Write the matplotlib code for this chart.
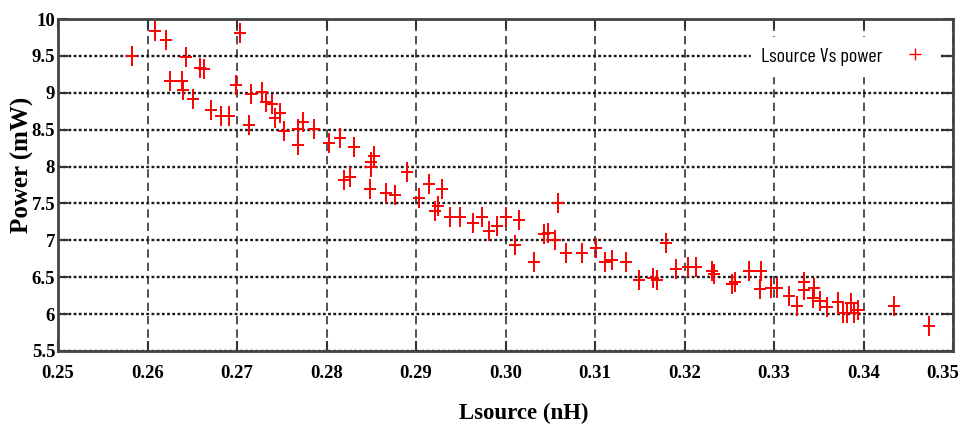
import matplotlib
matplotlib.use('Agg')
import matplotlib.pyplot as plt
import matplotlib.transforms as mtransforms
from matplotlib.ticker import FormatStrFormatter, FuncFormatter

# Lsource (nH) vs power (mW)
lsource = [0.2583, 0.2608, 0.2621, 0.2643, 0.2625, 0.2638, 0.2640, 0.2651, 0.2659, 0.2663,
           0.2671, 0.2682, 0.2691, 0.2699, 0.2703, 0.2713, 0.2716, 0.2728, 0.2732, 0.2739,
           0.2742, 0.2748, 0.2753, 0.2768, 0.2768, 0.2774, 0.2786, 0.2803, 0.2815, 0.2831,
           0.2850, 0.2853, 0.2850, 0.2819, 0.2826, 0.2890, 0.2849, 0.2866, 0.2877, 0.2903,
           0.2915, 0.2929, 0.2921, 0.2925, 0.2938, 0.2949, 0.2964, 0.2974, 0.2982, 0.2991,
           0.3001, 0.3015, 0.3011, 0.3032, 0.3043, 0.3047, 0.3059, 0.3055, 0.3068, 0.3086,
           0.3101, 0.3111, 0.3119, 0.3135, 0.3149, 0.3165, 0.3169, 0.3179, 0.3191, 0.3204,
           0.3213, 0.3231, 0.3233, 0.3253, 0.3256, 0.3272, 0.3284, 0.3286, 0.3297, 0.3303,
           0.3317, 0.3326, 0.3333, 0.3333, 0.3345, 0.3344, 0.3351, 0.3359, 0.3371, 0.3377,
           0.3382, 0.3386, 0.3389, 0.3394, 0.3434, 0.3473]
power = [9.50, 9.84, 9.71, 9.48, 9.16, 9.16, 9.04, 8.92, 9.34, 9.32,
         8.76, 8.69, 8.69, 9.10, 9.81, 8.56, 8.98, 9.01, 8.88, 8.85,
         8.66, 8.72, 8.48, 8.51, 8.29, 8.60, 8.51, 8.32, 8.39, 8.27,
         8.06, 8.14, 8.00, 7.82, 7.86, 7.92, 7.70, 7.64, 7.61, 7.58,
         7.76, 7.70, 7.40, 7.46, 7.31, 7.32, 7.23, 7.31, 7.13, 7.20,
         7.32, 7.27, 6.93, 6.71, 7.08, 7.10, 7.50, 7.01, 6.83, 6.83,
         6.89, 6.71, 6.73, 6.71, 6.46, 6.49, 6.46, 6.97, 6.61, 6.64,
         6.64, 6.58, 6.55, 6.41, 6.43, 6.58, 6.34, 6.58, 6.36, 6.36,
         6.25, 6.11, 6.43, 6.32, 6.36, 6.22, 6.18, 6.09, 6.17, 6.01,
         6.01, 6.15, 6.01, 6.06, 6.11, 5.84]

xticks = [0.25, 0.26, 0.27, 0.28, 0.29, 0.30, 0.31, 0.32, 0.33, 0.34, 0.35]
yticks = [5.5, 6, 6.5, 7, 7.5, 8, 8.5, 9, 9.5, 10]

serif = {'family': 'Liberation Serif', 'weight': 'bold'}

fig = plt.figure(figsize=(9.65, 4.4), dpi=100)
ax = fig.add_axes([0.0601, 0.2023, 0.9275, 0.7545])

# tall thin plus: vertical and horizontal arms drawn separately
ax.plot(lsource, power, ls='none', marker='|', ms=15, mew=1.4, color='red', zorder=3)
ax.plot(lsource, power, ls='none', marker='_', ms=8, mew=1.4, color='red', zorder=3)
# legend proxy
ax.plot([], [], ls='none', marker='+', ms=8, mew=1.0, color='red', label='Lsource Vs power')

ax.set_xlim(0.25, 0.35)
ax.set_ylim(5.5, 10)
ax.set_xticks(xticks)
ax.set_yticks(yticks)
ax.xaxis.set_major_formatter(FormatStrFormatter('%.2f'))
ax.yaxis.set_major_formatter(FuncFormatter(lambda v, p: '%g' % v))

ax.tick_params(direction='in', length=7, width=1.5, top=True, right=True, color='#333333')
ax.tick_params(axis='x', pad=10)
ax.tick_params(axis='y', pad=2)

for lab in ax.get_xticklabels() + ax.get_yticklabels():
    lab.set_fontfamily('Liberation Serif')
    lab.set_fontweight('bold')
    lab.set_fontsize(13.5)

# keep the last x label inside the figure
last = ax.get_xticklabels()[-1]
last.set_transform(last.get_transform() +
                   mtransforms.ScaledTranslation(-10 / 100, 0, fig.dpi_scale_trans))

ax.yaxis.grid(True, color='#1a1a1a', ls=(0, (1.2, 1.0)), lw=1.7)
ax.xaxis.grid(True, color='#333333', ls=(0, (5, 3)), lw=1.2)
ax.set_axisbelow(True)

for side in ax.spines:
    ax.spines[side].set_color('#444444')
    ax.spines[side].set_linewidth(2)

ax.set_xlabel('Lsource (nH)', fontsize=16.5, **serif)
ax.xaxis.set_label_coords(0.52, -0.155)
ax.set_ylabel('Power (mW)', fontsize=18, **serif)
ax.yaxis.set_label_coords(-0.027, 0.56)

leg = ax.legend(loc='upper right', markerfirst=False, frameon=True, fancybox=False,
                prop={'family': 'Barlow Condensed', 'size': 14.5},
                bbox_to_anchor=(0.995, 0.975), handlelength=1.3, handletextpad=1.0,
                borderpad=0.5)
leg.get_frame().set_edgecolor('white')
leg.get_frame().set_facecolor('white')
leg.get_frame().set_alpha(1)
leg.set_zorder(5)

fig.savefig('out.png', dpi=100)
